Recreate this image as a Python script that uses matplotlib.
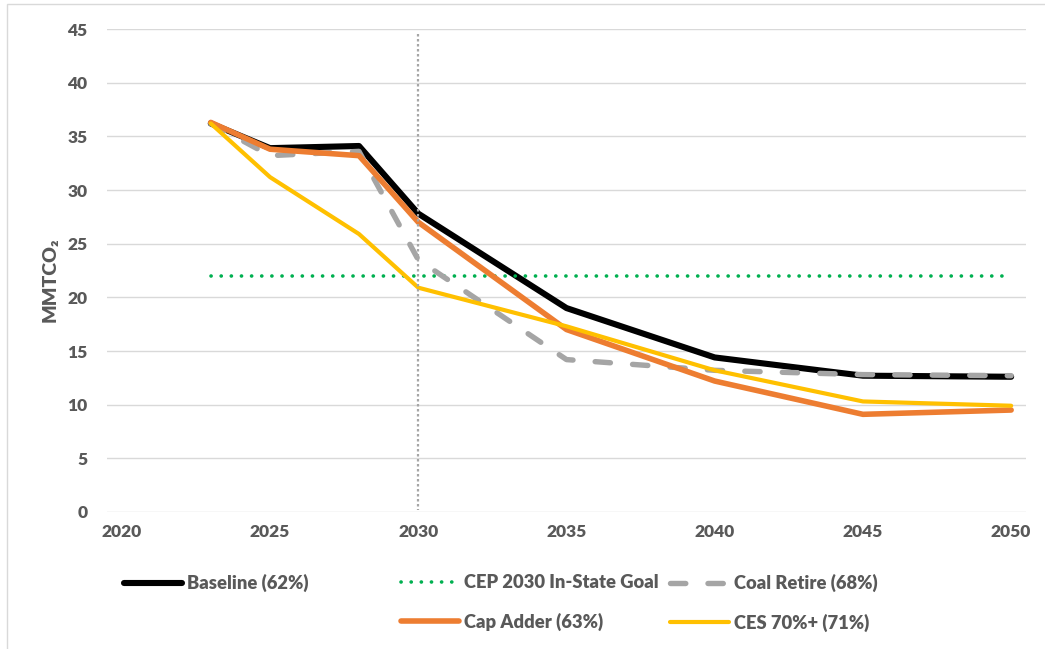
import matplotlib
matplotlib.use("Agg")
import matplotlib.pyplot as plt
from matplotlib.patches import Rectangle

plt.rcParams['font.family'] = ['Lato', 'DejaVu Sans']
plt.rcParams['font.weight'] = 'bold'
plt.rcParams['lines.scale_dashes'] = False

years = [2023, 2025, 2028, 2030, 2035, 2040, 2045, 2050]
baseline = [36.2, 33.9, 34.1, 27.8, 19.0, 14.4, 12.7, 12.6]
coal_retire = [36.2, 33.2, 33.6, 23.5, 14.2, 13.2, 12.8, 12.7]
cap_adder = [36.3, 33.8, 33.2, 27.0, 17.0, 12.2, 9.1, 9.5]
ces_70 = [36.2, 31.2, 25.9, 20.9, 17.3, 13.2, 10.3, 9.9]
goal_years = [2023, 2050]
goal_value = [22, 22]
marker_year = 2030

x_ticks = [2020, 2025, 2030, 2035, 2040, 2045, 2050]
y_ticks = [0, 5, 10, 15, 20, 25, 30, 35, 40, 45]

text_color = '#595959'
weight = 'heavy'

fig = plt.figure(figsize=(10.45, 6.49), dpi=100)
ax = fig.add_axes([0.1024, 0.2111, 0.8794, 0.7442])

ax.plot(years, baseline, color='black', lw=4.4, solid_capstyle='round',
        solid_joinstyle='round', label='Baseline (62%)', zorder=3)
ax.plot(goal_years, goal_value, color='#00B050', lw=2.6, dashes=(0.1, 7.2),
        dash_capstyle='round', label='CEP 2030 In-State Goal', zorder=4)
ax.plot(years, coal_retire, color='#A5A5A5', lw=3.9, dashes=(11, 16),
        dash_capstyle='round', label='Coal Retire (68%)', zorder=5)
ax.plot(years, cap_adder, color='#ED7D31', lw=4.0, solid_capstyle='round',
        solid_joinstyle='round', label='Cap Adder (63%)', zorder=6)
ax.plot(years, ces_70, color='#FFC000', lw=3.0, solid_capstyle='round',
        solid_joinstyle='round', label='CES 70%+ (71%)', zorder=7)
# vertical marker at 2030
ax.plot([marker_year, marker_year], [44.5, 0.2], color='#A6A6A6', lw=1.6,
        dashes=(1.8, 1.8), zorder=8)

ax.set_xlim(2019.5, 2050.5)
ax.set_ylim(0, 45)
ax.set_xticks(x_ticks)
ax.set_yticks(y_ticks)
ax.grid(axis='y', color='#D9D9D9', lw=1.0)
ax.set_axisbelow(True)
for s in ax.spines.values():
    s.set_visible(False)
ax.tick_params(axis='both', length=0, labelsize=12.5, labelcolor=text_color)
ax.tick_params(axis='y', pad=14)
ax.tick_params(axis='x', pad=9)
for lab in ax.get_xticklabels() + ax.get_yticklabels():
    lab.set_fontweight(weight)

ax.set_ylabel('MMTCO\u2082', fontsize=14, color=text_color, fontweight=weight)
ax.yaxis.set_label_coords(-0.053, 0.48)

# legend laid out in three columns like the Excel one
handles, labels = ax.get_legend_handles_labels()
columns = [[0], [1, 3], [2, 4]]
col_x = [0.1185, 0.3835, 0.6415]
for xpos, idx in zip(col_x, columns):
    leg = fig.legend([handles[i] for i in idx], [labels[i] for i in idx],
                     loc='upper left', bbox_to_anchor=(xpos, 1 - 574 / 649),
                     bbox_transform=fig.transFigure, frameon=False,
                     fontsize=13.2, handlelength=3.2, handletextpad=0.25,
                     labelspacing=1.17, borderaxespad=0, borderpad=0)
    for t in leg.get_texts():
        t.set_color(text_color)
        t.set_fontweight(weight)

fig.patches.append(Rectangle((0.0067, -0.01), 1.0, 1.004, transform=fig.transFigure,
                             fill=False, edgecolor='#D9D9D9', lw=1.0))

fig.savefig('out.png', dpi=100)
